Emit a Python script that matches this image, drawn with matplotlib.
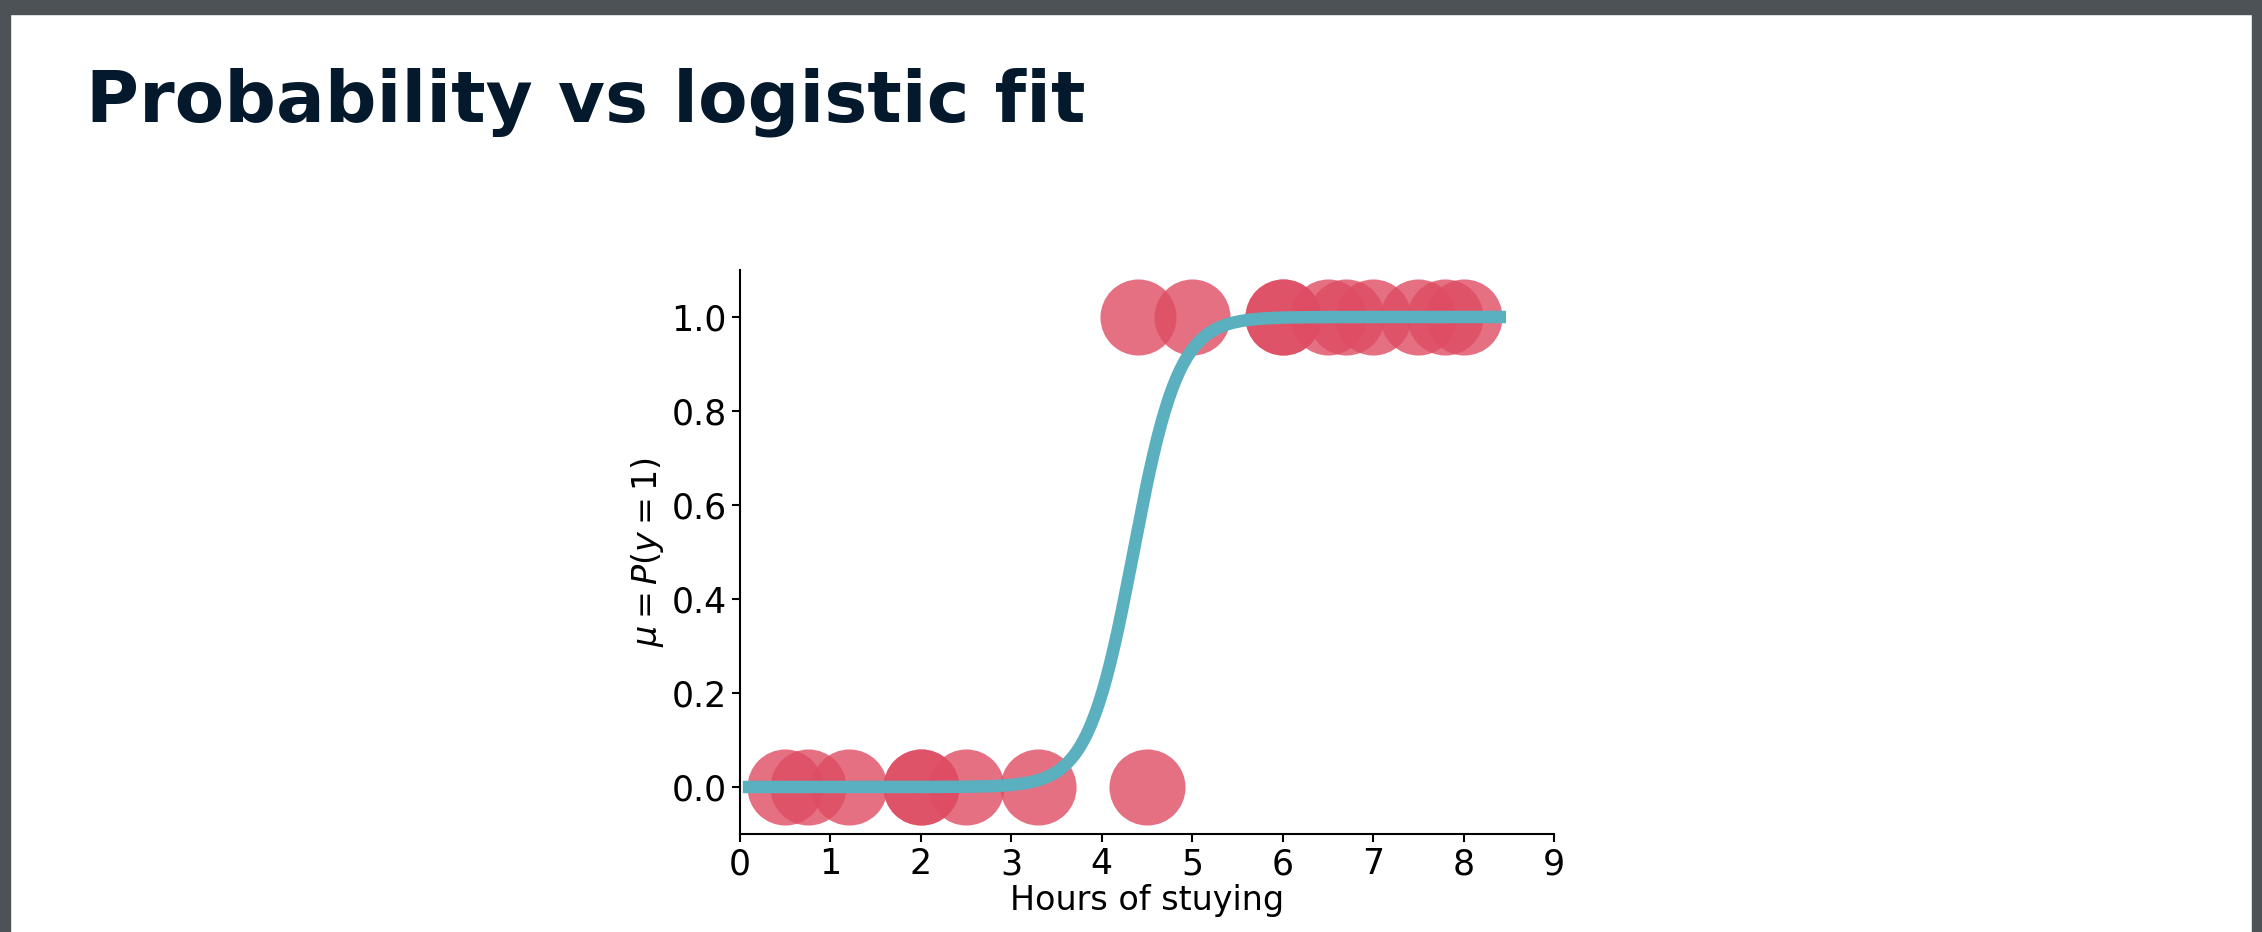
import numpy as np
import matplotlib
matplotlib.use("Agg")
import matplotlib.pyplot as plt
from matplotlib.patches import Rectangle

x0 = [0.5, 0.75, 1.2, 2.0, 2.0, 2.5, 3.3, 4.5]
x1 = [4.4, 5.0, 6.0, 6.0, 6.5, 6.7, 7.0, 7.5, 7.8, 8.0]
mid, k = 4.35, 4.0

fig = plt.figure(figsize=(22.62, 9.32), dpi=100)
fig.patch.set_facecolor("white")
# frame
fig.patches.append(Rectangle((0, 0.985), 1, 0.015, transform=fig.transFigure, color="#4d5257", zorder=0))
fig.patches.append(Rectangle((0, 0), 0.0045, 1, transform=fig.transFigure, color="#4d5257", zorder=0))
fig.patches.append(Rectangle((0.9955, 0), 0.0045, 1, transform=fig.transFigure, color="#4d5257", zorder=0))
fig.text(0.038, 0.89, "Probability vs logistic fit", fontsize=52, fontweight="bold",
         color="#05192d", va="center", ha="left")

ax = fig.add_axes([740/2262, 1-834/932, 814/2262, 564/932])
ax.scatter(x0, np.zeros(len(x0)), s=3000, color="#de4c63", alpha=0.8, linewidths=0, zorder=2)
ax.scatter(x1, np.ones(len(x1)), s=3000, color="#de4c63", alpha=0.8, linewidths=0, zorder=2)
xs = np.linspace(0.1, 8.4, 400)
ax.plot(xs, 1/(1+np.exp(-k*(xs-mid))), color="#5ab0bf", lw=9, zorder=3)
ax.set_xlim(0, 9)
ax.set_ylim(-0.1, 1.1)
ax.set_xticks(range(10))
ax.set_yticks([0, 0.2, 0.4, 0.6, 0.8, 1.0])
ax.set_yticklabels(["0.0", "0.2", "0.4", "0.6", "0.8", "1.0"])
ax.tick_params(labelsize=25, length=6, width=1.5)
ax.spines["top"].set_visible(False)
ax.spines["right"].set_visible(False)
for s in ("left", "bottom"):
    ax.spines[s].set_linewidth(1.5)
ax.set_xlabel("Hours of stuying", fontsize=24, labelpad=2)
ax.set_ylabel(r"$\mu = P(y=1)$", fontsize=24)
fig.savefig("out.png", dpi=100)
